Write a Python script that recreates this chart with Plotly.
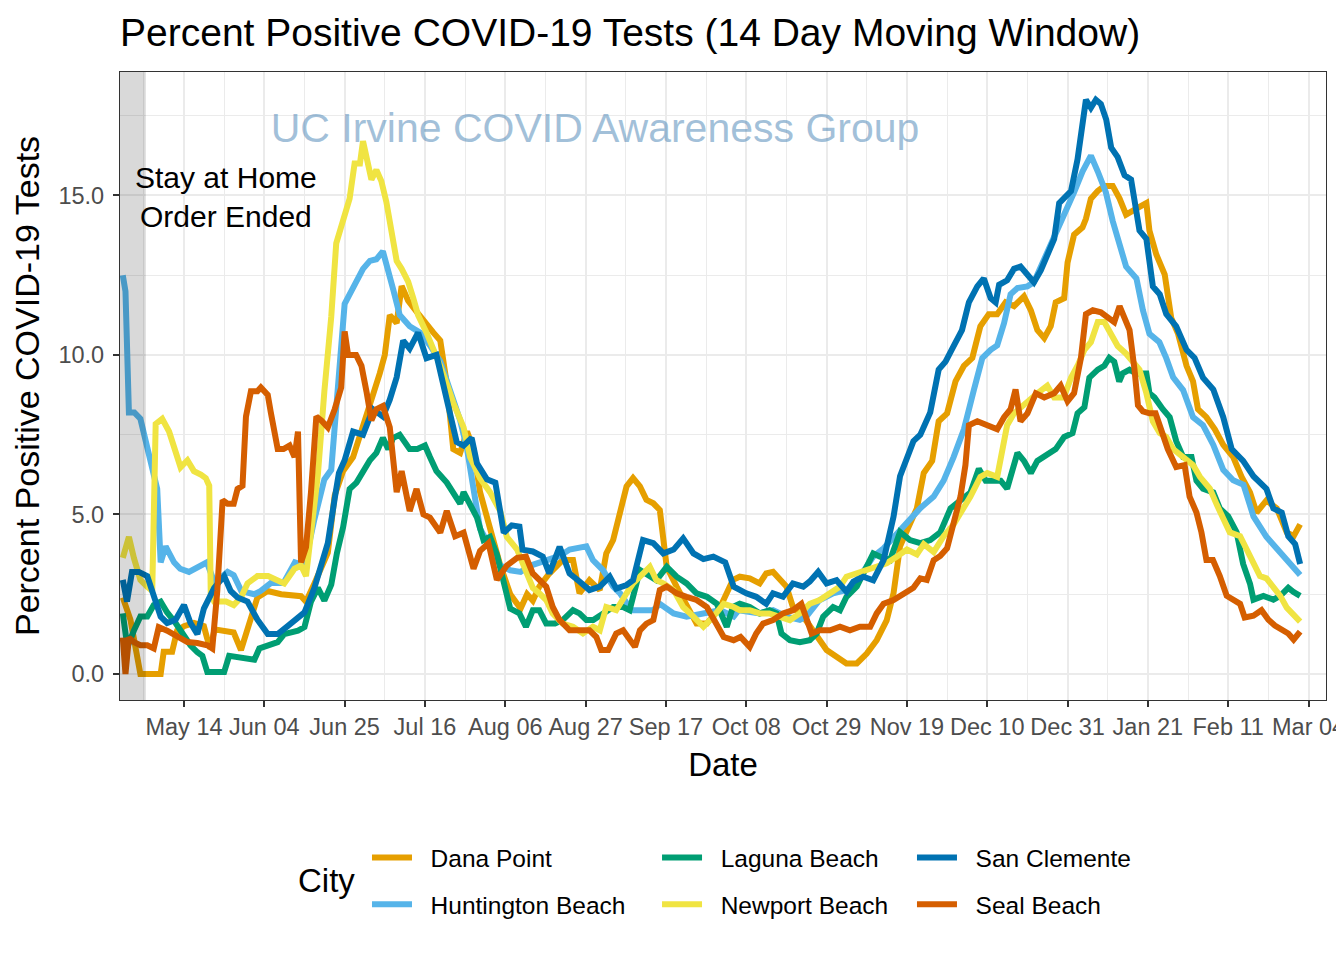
import pandas as pd
import plotly.graph_objects as go

# ---------------- data (days since 2020-04-28, 14-day percent positive) ----------------
START = pd.Timestamp("2020-04-28")

days_dp = [0, 2, 4.6, 9.9, 10.7, 12.9, 14.2, 16, 18.6, 21.2,
           22, 22.9, 24, 27, 29, 30.9, 33.5, 35.2, 37.9, 41.4,
           46.6, 47.9, 50.1, 51.9, 53.6, 55.4, 57.6, 60.2, 62.8, 65.4,
           67.2, 68.5, 69.8, 71.6, 72.9, 74.6, 76.8, 79, 81.2, 83,
           84.7, 86.4, 88.2, 90, 91.7, 93.4, 96, 98.7, 101.3, 104,
           105.7, 107.2, 108.9, 111.5, 115, 117.7, 119.4, 122, 124.7, 126.4,
           128.2, 130, 131.7, 133.4, 135.2, 136.9, 138.7, 140.4, 142.2, 144.8,
           147.4, 150, 152.7, 156.2, 159.5, 161.3, 163.9, 166.5, 168.2, 170,
           173.5, 175.2, 177.9, 181.4, 184, 186.6, 189.2, 191.9, 194.5, 197.1,
           199.7, 201.5, 203.2, 205, 207.6, 209.4, 211.6, 213.3, 215.5, 217.7,
           219.9, 222.1, 224.2, 226.4, 228.6, 230.8, 233, 235.6, 237.4, 239.1,
           240.9, 242.6, 243.9, 246.1, 247, 248.7, 250.9, 251.8, 253.1, 254.9,
           256.6, 258.8, 260.6, 262.3, 264.1, 265.8, 267.6, 268.4, 270.2, 272.4,
           274.1, 275.9, 278.1, 279.8, 281.1, 283.3, 285.5, 287.7, 290.3, 292.5,
           294.7, 296.4, 299, 301.7, 304.3, 306.1, 307.8]
vals_dp = [2.4, 1.7, 0.0, 0.0, 0.7, 0.7, 1.36, 1.5, 1.6, 1.5,
           1.14, 0.8, 1.4, 1.35, 1.3, 0.75, 1.8, 2.4, 2.6, 2.5,
           2.44, 2.27, 2.84, 3.4, 3.8, 5.6, 6.36, 6.8, 7.84, 8.75,
           9.43, 10.0, 11.25, 11.0, 12.16, 11.7, 11.36, 11.0, 10.7, 10.45,
           9.1, 7.05, 6.93, 7.6, 7.05, 5.7, 4.55, 3.4, 2.5, 2.05,
           2.5, 2.3, 2.74, 3.15, 3.57, 3.57, 2.53, 2.94, 2.63, 3.78,
           4.2, 5.14, 5.88, 6.14, 5.88, 5.46, 5.35, 5.14, 3.36, 2.74,
           2.2, 1.58, 1.58, 2.1, 2.95, 3.05, 3.0, 2.84, 3.15, 3.2,
           2.74, 2.1, 1.8, 1.16, 0.75, 0.54, 0.33, 0.33, 0.64, 1.06,
           1.68, 2.53, 4.0, 4.5, 5.19, 6.3, 6.68, 7.92, 8.17, 9.17,
           9.66, 9.91, 10.9, 11.28, 11.28, 11.65, 11.53, 11.84, 11.4, 10.78,
           10.53, 10.9, 11.65, 11.78, 12.9, 13.77, 14.0, 14.27, 14.9, 15.14,
           15.3, 15.3, 14.9, 14.4, 14.5, 14.64, 14.76, 13.9, 13.15, 12.52,
           11.16, 10.66, 9.66, 9.17, 8.3, 8.05, 7.67, 7.18, 6.8, 6.18,
           5.69, 5.06, 5.44, 5.19, 4.44, 4.32, 4.69]

days_hb = [0, 0.7, 1.6, 3, 4.6, 6.4, 7.3, 9, 9.9, 11.2,
           13.4, 15, 17.3, 20.4, 22, 24, 27.4, 29, 31, 34.4,
           36, 38.7, 42, 45, 47.5, 50, 52.7, 54.5, 56, 58,
           59.3, 62.8, 64.6, 66.3, 68, 69.4, 70.7, 72.4, 75, 77.7,
           80.3, 83, 85.6, 88.2, 90, 91.7, 93.4, 96, 98.7, 101.3,
           104, 106.6, 109.2, 114.2, 116.8, 121.2, 122.9, 125.5, 128.2, 130,
           133, 138.7, 140.4, 144, 147.4, 152.7, 156.2, 159.7, 161, 166.5,
           170, 173.5, 177, 178.7, 182, 185.7, 189.2, 192.7, 196.2, 198.9,
           202.4, 205, 208.5, 212, 214.6, 217.2, 219.9, 222.5, 224.7, 226.9,
           228.6, 230.4, 232.1, 233.9, 236.5, 238.2, 240.9, 243.5, 246.1, 248.7,
           250.9, 253.1, 254.9, 257, 258.8, 260.6, 262.3, 265, 266.7, 268.4,
           271, 272.8, 274.6, 277.2, 279.8, 282.4, 285.1, 287.7, 290.3, 293,
           295.6, 299, 302.6, 305.2, 307.8]
vals_hb = [12.5, 12.0, 8.2, 8.2, 8.0, 7.1, 6.8, 5.8, 3.5, 4.0,
           3.5, 3.3, 3.2, 3.4, 3.5, 2.85, 3.2, 3.1, 2.6, 2.5,
           2.6, 2.85, 2.85, 3.5, 3.4, 4.8, 6.1, 6.4, 8.5, 11.6,
           11.9, 12.7, 12.95, 13.0, 13.25, 12.7, 12.05, 11.25, 10.9, 10.7,
           10.3, 9.8, 8.9, 7.95, 7.05, 5.7, 4.55, 4.0, 3.4, 3.25,
           3.2, 3.4, 3.5, 3.7, 3.9, 4.0, 3.57, 3.26, 2.74, 2.53,
           2.0, 2.0, 2.2, 1.9, 1.8, 1.9, 2.0, 1.8, 2.0, 1.9,
           2.0, 1.8, 1.7, 1.8, 2.3, 2.53, 2.63, 3.05, 3.68, 3.94,
           4.4, 4.7, 5.2, 5.56, 6.06, 6.8, 7.67, 8.9, 9.9, 10.16,
           10.3, 11.0, 11.9, 12.1, 12.15, 12.28, 13.0, 13.65, 14.4, 15.1,
           15.75, 16.25, 15.75, 15.1, 14.2, 13.4, 12.77, 12.4, 11.4, 10.66,
           10.4, 9.9, 9.3, 8.9, 8.05, 7.8, 7.18, 6.4, 6.07, 5.93,
           4.94, 4.3, 3.8, 3.43, 3.1]

days_lb = [0, 1.2, 2.9, 4.6, 6.4, 8.1, 9.9, 11.6, 13.8, 15.1,
           16.4, 17.7, 19.5, 20.8, 22.1, 26.5, 27.8, 30.9, 34.4, 35.7,
           38.7, 40.5, 42.2, 45.8, 47.5, 49.2, 51, 52.7, 54.5, 56,
           57.6, 59.3, 61.1, 62.8, 64.6, 66.3, 68, 69.4, 70.7, 72.4,
           75, 77, 79, 80.3, 82, 84.7, 86.9, 88.2, 89.1, 90.8,
           92.6, 94.3, 96, 97.8, 99.6, 101.3, 103.7, 105.4, 107.2, 108.9,
           110.7, 113, 115, 117.7, 119.4, 121.2, 123, 125.5, 128.2, 130.8,
           132.5, 135.2, 136.9, 139.5, 142.2, 144.8, 147.4, 150, 152.7, 155.3,
           157.9, 159.5, 161.3, 163.9, 166.5, 169.1, 170.9, 172.2, 174.4, 177,
           179.6, 181.4, 183.1, 185.7, 187.5, 189.2, 191.9, 194.5, 196.2, 198,
           200.6, 203.2, 205.8, 208.5, 211.1, 213.7, 216.4, 219, 221.6, 223.8,
           225.6, 228, 229.5, 231.2, 233, 233.9, 235.6, 237.4, 239.1, 241.7,
           243.9, 246.1, 248.3, 249.6, 251.4, 252.7, 254.9, 256.6, 257.9, 259.2,
           260.5, 261.4, 263.2, 264.9, 267.6, 268.4, 269.7, 271.9, 273.7, 275.4,
           277.2, 279.4, 280.7, 282.4, 285.1, 286.8, 289, 291.2, 292.9, 294.7,
           295.6, 298.2, 300.8, 302.6, 304.7, 306.1, 307.8]
vals_lb = [1.9, 0.85, 1.36, 1.8, 1.8, 2.16, 2.27, 1.93, 1.6, 1.36,
           1.14, 0.9, 0.68, 0.57, 0.06, 0.06, 0.57, 0.5, 0.45, 0.8,
           0.9, 1.0, 1.25, 1.36, 1.47, 2.27, 2.7, 2.3, 2.8, 3.8,
           4.6, 5.8, 6.0, 6.36, 6.7, 6.93, 7.4, 7.05, 7.4, 7.5,
           7.05, 7.05, 7.16, 6.8, 6.36, 6.0, 5.57, 5.34, 5.7, 5.34,
           4.9, 4.2, 4.3, 3.75, 2.95, 2.05, 1.9, 1.48, 2.0, 2.0,
           1.58, 1.58, 1.69, 2.0, 1.9, 1.69, 1.69, 1.9, 2.1, 2.1,
           2.0, 3.26, 3.15, 2.94, 3.36, 3.05, 2.84, 2.53, 2.42, 2.2,
           1.48, 2.1, 2.2, 2.1, 1.9, 2.0, 1.9, 1.27, 1.06, 1.0,
           1.06, 1.27, 1.8, 2.1, 2.0, 2.42, 2.74, 3.36, 3.78, 3.68,
           3.57, 4.45, 4.2, 4.1, 4.2, 4.44, 5.19, 5.44, 5.69, 6.43,
           6.06, 6.06, 6.06, 5.81, 6.55, 6.93, 6.68, 6.3, 6.68, 6.87,
           7.05, 7.43, 7.55, 8.17, 8.36, 9.29, 9.54, 9.66, 9.91, 9.79,
           9.17, 9.42, 9.54, 9.42, 9.42, 8.8, 8.67, 8.3, 8.05, 7.3,
           6.8, 6.8, 6.06, 5.81, 5.69, 5.19, 4.94, 4.44, 3.45, 2.83,
           2.33, 2.45, 2.33, 2.45, 2.7, 2.57, 2.45]

days_nb = [0, 1.6, 2.9, 4.6, 6.4, 7.7, 8.6, 10.3, 12.1, 13.8,
           15.1, 16.9, 18.6, 20.4, 21.7, 22.6, 23, 23.9, 27, 29,
           30.9, 32.6, 35.2, 38, 40.5, 42.2, 44.9, 46.6, 47.9, 49.2,
           51, 52.7, 54.5, 55.8, 57.6, 59.3, 60.6, 62, 62.8, 64.1,
           65, 66.3, 67.6, 68.9, 70.2, 71.6, 72.9, 74.6, 75.9, 77.2,
           79.4, 81.2, 83, 84.7, 86.4, 89.1, 90.8, 93.4, 96, 98.7,
           100.4, 103.1, 105.4, 107.2, 108.9, 110.7, 112.4, 115, 117.7, 120.3,
           122.9, 124.7, 126.4, 129, 131.7, 133.4, 135.2, 137.8, 139.5, 141.3,
           144, 146.5, 149.2, 151.8, 154.4, 157.1, 159.7, 161.3, 163.9, 166.5,
           169, 171.7, 174.4, 177, 179.6, 182.2, 184.9, 187.5, 189.2, 191.9,
           194.5, 197.1, 199.7, 202.4, 205, 207.6, 209.4, 212, 214.6, 217.2,
           219.9, 221.6, 224.2, 226, 228.6, 229.9, 231.2, 233, 235.2, 236.9,
           239.1, 241.7, 243.5, 246, 247.9, 249.6, 251.4, 253.1, 254.9, 256.6,
           258.4, 260.1, 262.3, 264.1, 265.8, 267.6, 269.3, 271.1, 272.8, 274.6,
           277.2, 279.8, 281.6, 284.2, 286, 287.7, 289.4, 292.1, 293.8, 295.6,
           297.3, 299, 300.8, 302.6, 304.3, 306.1, 307.8]
vals_nb = [3.64, 4.3, 3.64, 2.95, 2.73, 2.6, 7.84, 8.0, 7.6, 6.93,
           6.48, 6.7, 6.36, 6.25, 6.14, 5.9, 2.5, 2.27, 2.27, 2.16,
           2.4, 2.84, 3.07, 3.07, 2.95, 2.84, 3.3, 3.4, 3.07, 4.55,
           6.25, 8.86, 11.2, 13.5, 14.2, 14.9, 16.0, 16.0, 16.7, 15.9,
           15.5, 15.8, 15.45, 14.8, 13.9, 12.95, 12.7, 12.3, 11.8, 11.25,
           10.7, 10.2, 9.66, 9.1, 8.5, 7.73, 6.8, 6.14, 5.7, 5.1,
           4.3, 3.9, 3.2, 2.7, 2.53, 2.32, 1.9, 1.58, 1.48, 1.27,
           1.48, 1.37, 2.1, 2.0, 2.53, 2.84, 3.05, 3.36, 2.94, 2.84,
           2.63, 2.1, 1.8, 1.48, 1.8, 2.2, 2.1, 2.0, 2.0, 1.9,
           1.9, 1.8, 1.69, 1.9, 2.2, 2.32, 2.53, 2.74, 3.05, 3.15,
           3.26, 3.36, 3.47, 3.68, 3.9, 3.75, 4.07, 3.82, 4.32, 4.69,
           5.19, 5.56, 6.18, 6.3, 6.18, 7.05, 7.8, 8.17, 8.42, 8.55,
           8.8, 9.04, 8.67, 8.67, 9.29, 9.66, 10.16, 10.4, 11.03, 11.03,
           10.66, 10.28, 10.04, 9.79, 9.54, 8.8, 7.92, 7.55, 7.43, 7.05,
           6.8, 6.55, 6.18, 5.81, 5.31, 4.82, 4.44, 4.32, 3.94, 3.45,
           3.07, 3.0, 2.7, 2.45, 2.08, 1.83, 1.64]

days_sc = [0, 1.1, 2.4, 4.2, 6.4, 8.1, 9.9, 11.6, 13.8, 16,
           17.7, 19.5, 21.2, 23.9, 26.5, 28.2, 30, 32.6, 35.2, 37.9,
           40.5, 43.1, 44.9, 47.5, 50.1, 51.9, 53.6, 55.4, 56.5, 58,
           60.2, 62.8, 65.4, 68, 69.8, 71.6, 73.3, 75, 77.2, 79.4,
           82, 84.7, 87.3, 89.1, 91.2, 92.6, 95.2, 97.4, 99.6, 101.7,
           103.7, 104.5, 107.2, 109.8, 111.5, 114.2, 116.8, 119.4, 122, 124.7,
           127.3, 129, 131.7, 133.4, 136, 138.7, 141.3, 144, 146.5, 149.2,
           151.8, 154.4, 157.5, 159.7, 163, 165.6, 168.2, 170, 172.6, 175.2,
           177.9, 179.6, 181.8, 184, 186.6, 189.2, 191, 193.6, 196.2, 198.9,
           201.5, 203.2, 205, 206.7, 208.5, 211.1, 213.3, 215.1, 217.2, 219.4,
           221.2, 223.4, 225.1, 226.9, 228.2, 229.1, 231.2, 233, 234.7, 236.5,
           238.2, 240, 241.7, 243.5, 244.8, 246.1, 247.9, 249.6, 250.9, 251.8,
           253.1, 254.4, 255.7, 257.1, 258.4, 260.1, 261.9, 263.6, 265.8, 267.6,
           269.3, 271.1, 272.8, 275.4, 278.1, 280.2, 282.4, 285.1, 287.7, 289.9,
           292.9, 295.6, 299, 300.8, 303, 304.7, 306.5, 307.8]
vals_sc = [2.95, 2.27, 3.2, 3.2, 3.07, 2.4, 1.8, 1.6, 1.7, 2.16,
           1.6, 1.25, 2.05, 2.7, 3.07, 2.6, 2.4, 2.27, 1.7, 1.25,
           1.25, 1.5, 1.7, 1.93, 2.7, 3.5, 4.1, 5.5, 6.3, 6.7,
           7.6, 7.5, 8.3, 8.07, 8.6, 9.3, 10.45, 10.2, 10.7, 9.9,
           10.0, 8.6, 7.27, 7.16, 7.4, 6.6, 6.1, 6.0, 4.43, 4.66,
           4.62, 3.9, 3.84, 3.68, 3.15, 3.99, 3.15, 2.9, 2.63, 2.74,
           3.05, 2.68, 2.79, 2.94, 4.2, 4.1, 3.78, 3.9, 4.25, 3.78,
           3.6, 3.68, 3.5, 2.74, 2.53, 2.42, 2.2, 2.53, 2.42, 2.84,
           2.74, 2.9, 3.2, 2.84, 2.94, 2.58, 2.9, 3.05, 2.94, 3.57,
           4.93, 6.2, 6.75, 7.3, 7.5, 8.2, 9.54, 9.79, 10.28, 10.78,
           11.65, 12.15, 12.4, 11.78, 11.65, 12.2, 12.34, 12.7, 12.77, 12.52,
           12.28, 12.65, 13.15, 13.64, 14.76, 14.9, 15.14, 16.13, 17.25, 18.0,
           17.75, 18.0, 17.87, 17.38, 16.5, 16.2, 15.63, 15.5, 13.9, 13.64,
           12.15, 11.9, 11.28, 10.9, 10.16, 9.91, 9.29, 8.92, 8.05, 7.05,
           6.68, 6.2, 5.8, 5.19, 5.06, 4.32, 4.07, 3.45]

days_sb = [0, 0.7, 1.6, 2.9, 4.6, 6.4, 8.1, 9.4, 11.6, 13.4,
           15.1, 16.9, 19.5, 22.1, 23.4, 24.7, 26.1, 27.4, 29, 30,
           31.3, 32.2, 33.5, 35.2, 36.1, 37.9, 38.7, 40.5, 42, 43.6,
           44.9, 45.8, 46.6, 47.9, 49.2, 50.6, 51.9, 53.6, 55.4, 57.1,
           58, 58.9, 61, 62.4, 63.7, 65, 66.3, 68, 69.8, 71.6,
           72.9, 75, 76.8, 78.6, 80.3, 83, 84.7, 86.9, 89.1, 91.7,
           93.4, 95.6, 97.8, 100.4, 103.1, 105.4, 107.2, 108.9, 110.7, 112.4,
           114.2, 116.8, 122, 123.8, 125.1, 126.9, 129, 130.8, 132.5, 133.9,
           135.2, 136.9, 138.7, 140.4, 142.2, 144.8, 147.4, 150, 152.7, 155.3,
           157.1, 159.7, 161.5, 163.9, 165.6, 167.4, 170, 172.6, 175.2, 177.4,
           178.7, 180.1, 182.2, 184.9, 187.5, 190.1, 192.7, 195.4, 197.1, 198.9,
           201.5, 204.1, 206.7, 208.5, 210.2, 212, 213.7, 215.5, 217.2, 219,
           220.3, 221.2, 223.4, 226, 228.6, 230.4, 232.1, 233.4, 234.7, 236.5,
           238.7, 240.9, 243.5, 245.2, 247, 248.7, 250.5, 251.8, 253.6, 255.7,
           257.9, 259.2, 260.6, 261.9, 263.2, 264.5, 265.4, 266.7, 268.4, 270,
           271.4, 273.2, 275.4, 277.6, 278.9, 280.7, 282, 283.3, 285, 286.8,
           288.6, 290.3, 292.1, 293.3, 295.6, 297.7, 299.5, 301.2, 303, 304.7,
           306.1, 307.8]
vals_sb = [1.14, 0.0, 1.14, 1.0, 0.9, 0.9, 0.8, 1.47, 1.36, 1.25,
           1.14, 1.0, 0.97, 0.9, 0.8, 2.6, 5.45, 5.34, 5.34, 5.8,
           5.9, 8.07, 8.86, 8.86, 8.98, 8.75, 8.2, 7.05, 7.05, 7.16,
           6.8, 7.6, 3.5, 3.98, 5.7, 8.07, 7.95, 7.73, 8.3, 8.98,
           10.74, 10.0, 10.0, 9.66, 8.86, 7.95, 8.3, 8.4, 7.73, 5.7,
           6.36, 5.11, 5.8, 5.0, 4.9, 4.43, 5.11, 4.32, 4.43, 3.3,
           3.86, 4.1, 2.95, 3.4, 3.64, 3.68, 3.15, 2.94, 2.74, 2.1,
           1.69, 1.37, 1.37, 1.16, 0.75, 0.75, 1.27, 1.37, 1.06, 0.85,
           1.37, 1.58, 1.69, 2.63, 2.74, 2.53, 2.42, 2.32, 2.1, 1.58,
           1.16, 1.06, 1.16, 0.85, 1.27, 1.58, 1.69, 1.9, 2.0, 2.2,
           1.69, 1.27, 1.37, 1.37, 1.48, 1.37, 1.48, 1.48, 1.9, 2.2,
           2.32, 2.53, 2.7, 3.0, 2.95, 3.57, 3.7, 3.94, 4.69, 5.56,
           6.55, 7.8, 7.92, 7.8, 7.67, 8.05, 8.3, 8.92, 7.92, 8.17,
           8.8, 8.67, 8.8, 9.04, 8.55, 8.8, 9.91, 11.28, 11.4, 11.34,
           11.16, 11.03, 11.53, 11.16, 10.78, 9.54, 8.42, 8.23, 8.17, 8.17,
           7.67, 7.05, 6.49, 6.55, 5.56, 5.06, 4.44, 3.57, 3.57, 3.07,
           2.45, 2.33, 2.2, 1.77, 1.83, 2.0, 1.7, 1.52, 1.39, 1.27,
           1.08, 1.33]

cities = ["Dana Point", "Huntington Beach", "Laguna Beach",
          "Newport Beach", "San Clemente", "Seal Beach"]
colors = ["#E69F00", "#56B4E9", "#009E73", "#F0E442", "#0072B2", "#D55E00"]
city_days = [days_dp, days_hb, days_lb, days_nb, days_sc, days_sb]
city_vals = [vals_dp, vals_hb, vals_lb, vals_nb, vals_sc, vals_sb]
legend_ids = ["legend", "legend", "legend2", "legend2", "legend3", "legend3"]

tick_dates = ["2020-05-14", "2020-06-04", "2020-06-25", "2020-07-16", "2020-08-06",
              "2020-08-27", "2020-09-17", "2020-10-08", "2020-10-29", "2020-11-19",
              "2020-12-10", "2020-12-31", "2021-01-21", "2021-02-11", "2021-03-04"]
tick_labels = ["May 14", "Jun 04", "Jun 25", "Jul 16", "Aug 06", "Aug 27", "Sep 17",
               "Oct 08", "Oct 29", "Nov 19", "Dec 10", "Dec 31", "Jan 21", "Feb 11", "Mar 04"]
y_ticks = [0, 5, 10, 15]
y_labels = ["0.0", "5.0", "10.0", "15.0"]

TITLE = "Percent Positive COVID-19 Tests (14 Day Moving Window)"
WATERMARK = "UC Irvine COVID Awareness Group"
NOTE = "Stay at Home<br>Order Ended"
ORDER_END = "2020-05-04"

# ---------------- figure ----------------
# the page body adds an 8 px margin, so the figure is 8 px smaller and margins shifted
FONT = "Liberation Sans, Arial, Helvetica, sans-serif"
X_RANGE = ["2020-04-27 06:30", "2021-03-08 13:30"]
Y_RANGE = [-0.815, 18.87]
W, H = 1336, 944

tick_ts = pd.to_datetime(tick_dates)
minor_ts = [tick_ts[0] - pd.Timedelta(hours=252)] + [
    tick_ts[i] + (tick_ts[i + 1] - tick_ts[i]) / 2 for i in range(len(tick_ts) - 1)]

fig = go.Figure()

# watermark under the lines
fig.add_trace(go.Scatter(
    x=[pd.Timestamp("2020-08-29 11:00")], y=[17.0], mode="text",
    text=[WATERMARK], textposition="middle center",
    textfont=dict(family=FONT, size=41, color="rgba(70,130,180,0.5)"),
    showlegend=False, hoverinfo="skip"))

for name, col, d, v, lg in zip(cities, colors, city_days, city_vals, legend_ids):
    fig.add_trace(go.Scatter(
        x=START + pd.to_timedelta(d, unit="D"), y=v, mode="lines", name="  " + name,
        line=dict(color=col, width=6), legend=lg, legendgroup=name))

fig.add_shape(type="rect", xref="x", yref="paper", x0=X_RANGE[0], x1=ORDER_END,
              y0=0, y1=1, fillcolor="rgba(0,0,0,0.15)", line=dict(width=0), layer="above")

fig.add_annotation(x="2020-05-25", y=14.95, text=NOTE, showarrow=False,
                   font=dict(family=FONT, size=30, color="black"), align="center")

fig.add_annotation(xref="paper", yref="paper", x=0.1716, y=-0.288, text="City",
                   showarrow=False, font=dict(family=FONT, size=33, color="black"),
                   xanchor="center", yanchor="middle")

grid = "#EBEBEB"
axis_common = dict(showline=True, linecolor="#333333", linewidth=1.3, mirror=True,
                   ticks="outside", ticklen=6, tickwidth=1.5, tickcolor="#333333",
                   showgrid=True, gridcolor=grid, gridwidth=2, zeroline=False,
                   tickfont=dict(family=FONT, size=23.5, color="#4D4D4D"))

fig.update_xaxes(type="date", range=X_RANGE, tickmode="array", tickvals=tick_ts,
                 ticktext=tick_labels, ticklabeloverflow="allow",
                 minor=dict(tickmode="array", tickvals=minor_ts, showgrid=True,
                            gridcolor=grid, gridwidth=1, ticklen=0),
                 title=dict(text="Date", font=dict(family=FONT, size=33, color="black"),
                            standoff=13),
                 **axis_common)
fig.update_yaxes(range=Y_RANGE, tickmode="array", tickvals=y_ticks, ticktext=y_labels,
                 ticklabelstandoff=4,
                 minor=dict(tickmode="array", tickvals=[2.5, 7.5, 12.5, 17.5], showgrid=True,
                            gridcolor=grid, gridwidth=1, ticklen=0),
                 title=dict(text="Percent Positive COVID-19 Tests",
                            font=dict(family=FONT, size=34, color="black"), standoff=10),
                 **axis_common)

leg_common = dict(orientation="v", xanchor="left", yanchor="top", y=-0.215,
                  font=dict(family=FONT, size=24.5, color="black"),
                  itemwidth=40, tracegroupgap=12, bgcolor="rgba(0,0,0,0)")
fig.update_layout(
    width=W, height=H,
    margin=dict(l=112, r=18, t=64, b=252, autoexpand=False),
    paper_bgcolor="white", plot_bgcolor="white",
    font=dict(family=FONT, color="black"),
    title=dict(text=TITLE, x=112 / W, xref="container", xanchor="left",
               y=1 - 24 / H, yref="container", yanchor="middle",
               font=dict(family=FONT, size=39, color="black")),
    legend=dict(x=0.2048, **leg_common),
    legend2=dict(x=0.4453, **leg_common),
    legend3=dict(x=0.6567, **leg_common),
)

fig.write_html("out.html")
